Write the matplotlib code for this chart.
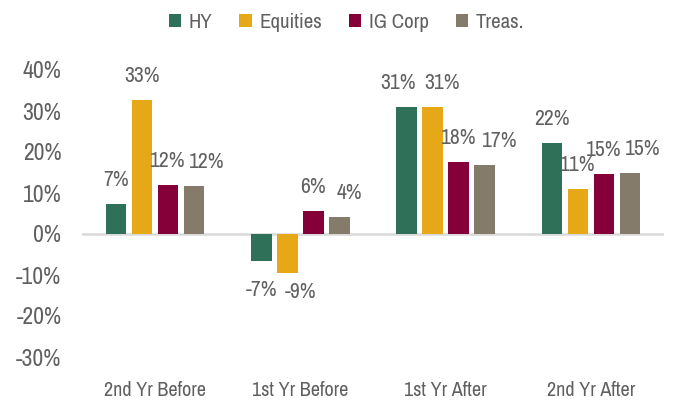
import numpy as np
import matplotlib
matplotlib.use("Agg")
import matplotlib.pyplot as plt

plt.rcParams['font.family'] = ['Archivo Narrow', 'Roboto Condensed', 'DejaVu Sans']

categories = ["2nd Yr Before", "1st Yr Before", "1st Yr After", "2nd Yr After"]
series_names = ["HY", "Equities", "IG Corp", "Treas."]
hy = [7.4, -6.6, 31.0, 22.2]
equities = [32.8, -9.4, 31.0, 11.0]
ig_corp = [12.0, 5.6, 17.6, 14.6]
treas = [11.6, 4.2, 16.8, 14.8]
colors = ["#2F7058", "#E6A817", "#850038", "#857B6A"]
y_ticks = [40, 30, 20, 10, 0, -10, -20, -30]

# hand nudges of the value labels (pixels), one row per series
label_dx = [[0, 0, -9, 0], [0, 13, 9, 0], [0, 0, 0, 0], [13, 10, 15, 13]]
label_dy = [[0, -10, 0, 0], [0, 0, 0, 0], [0, 0, 0, 0], [0, 0, 0, 0]]

text_color = "#606060"

fig = plt.figure(figsize=(6.79, 4.0), dpi=100)
ax = fig.add_axes([82.3 / 679, 43 / 400, (663.7 - 82.3) / 679, (357 - 70) / 400])

x = np.arange(len(categories))
width = 0.142
step = 0.179
all_series = [hy, equities, ig_corp, treas]
for i, (name, vals, col) in enumerate(zip(series_names, all_series, colors)):
    pos = x + (i - 1.5) * step
    ax.bar(pos, vals, width=width, color=col, label=name, zorder=2)
    for j, (p, v) in enumerate(zip(pos, vals)):
        off = 24 if v >= 0 else -19
        ax.annotate("{:.0f}%".format(v), (p, v),
                    xytext=(label_dx[i][j], off + label_dy[i][j]), textcoords="offset pixels",
                    ha="center", va="center", fontsize=15.5, color=text_color)

ax.axhline(0, color="#D9D9D9", lw=1.8, zorder=1)
ax.set_xlim(-0.5, 3.5)
ax.set_ylim(-30, 40)
ax.set_yticks(y_ticks)
ax.set_yticklabels(["{}%".format(t) for t in y_ticks])
ax.set_xticks(x)
ax.set_xticklabels(categories)
ax.tick_params(axis="both", length=0, labelcolor=text_color)
ax.tick_params(axis="x", pad=17, labelsize=14.5)
ax.tick_params(axis="y", pad=15, labelsize=17)
for s in ax.spines.values():
    s.set_visible(False)

fig.legend(loc="upper center", bbox_to_anchor=(0.51, 1.015), ncol=4, frameon=False,
           fontsize=15, labelcolor=text_color, handlelength=0.6, handleheight=0.6,
           handletextpad=0.35, columnspacing=1.3)

fig.savefig("out.png", dpi=100)
